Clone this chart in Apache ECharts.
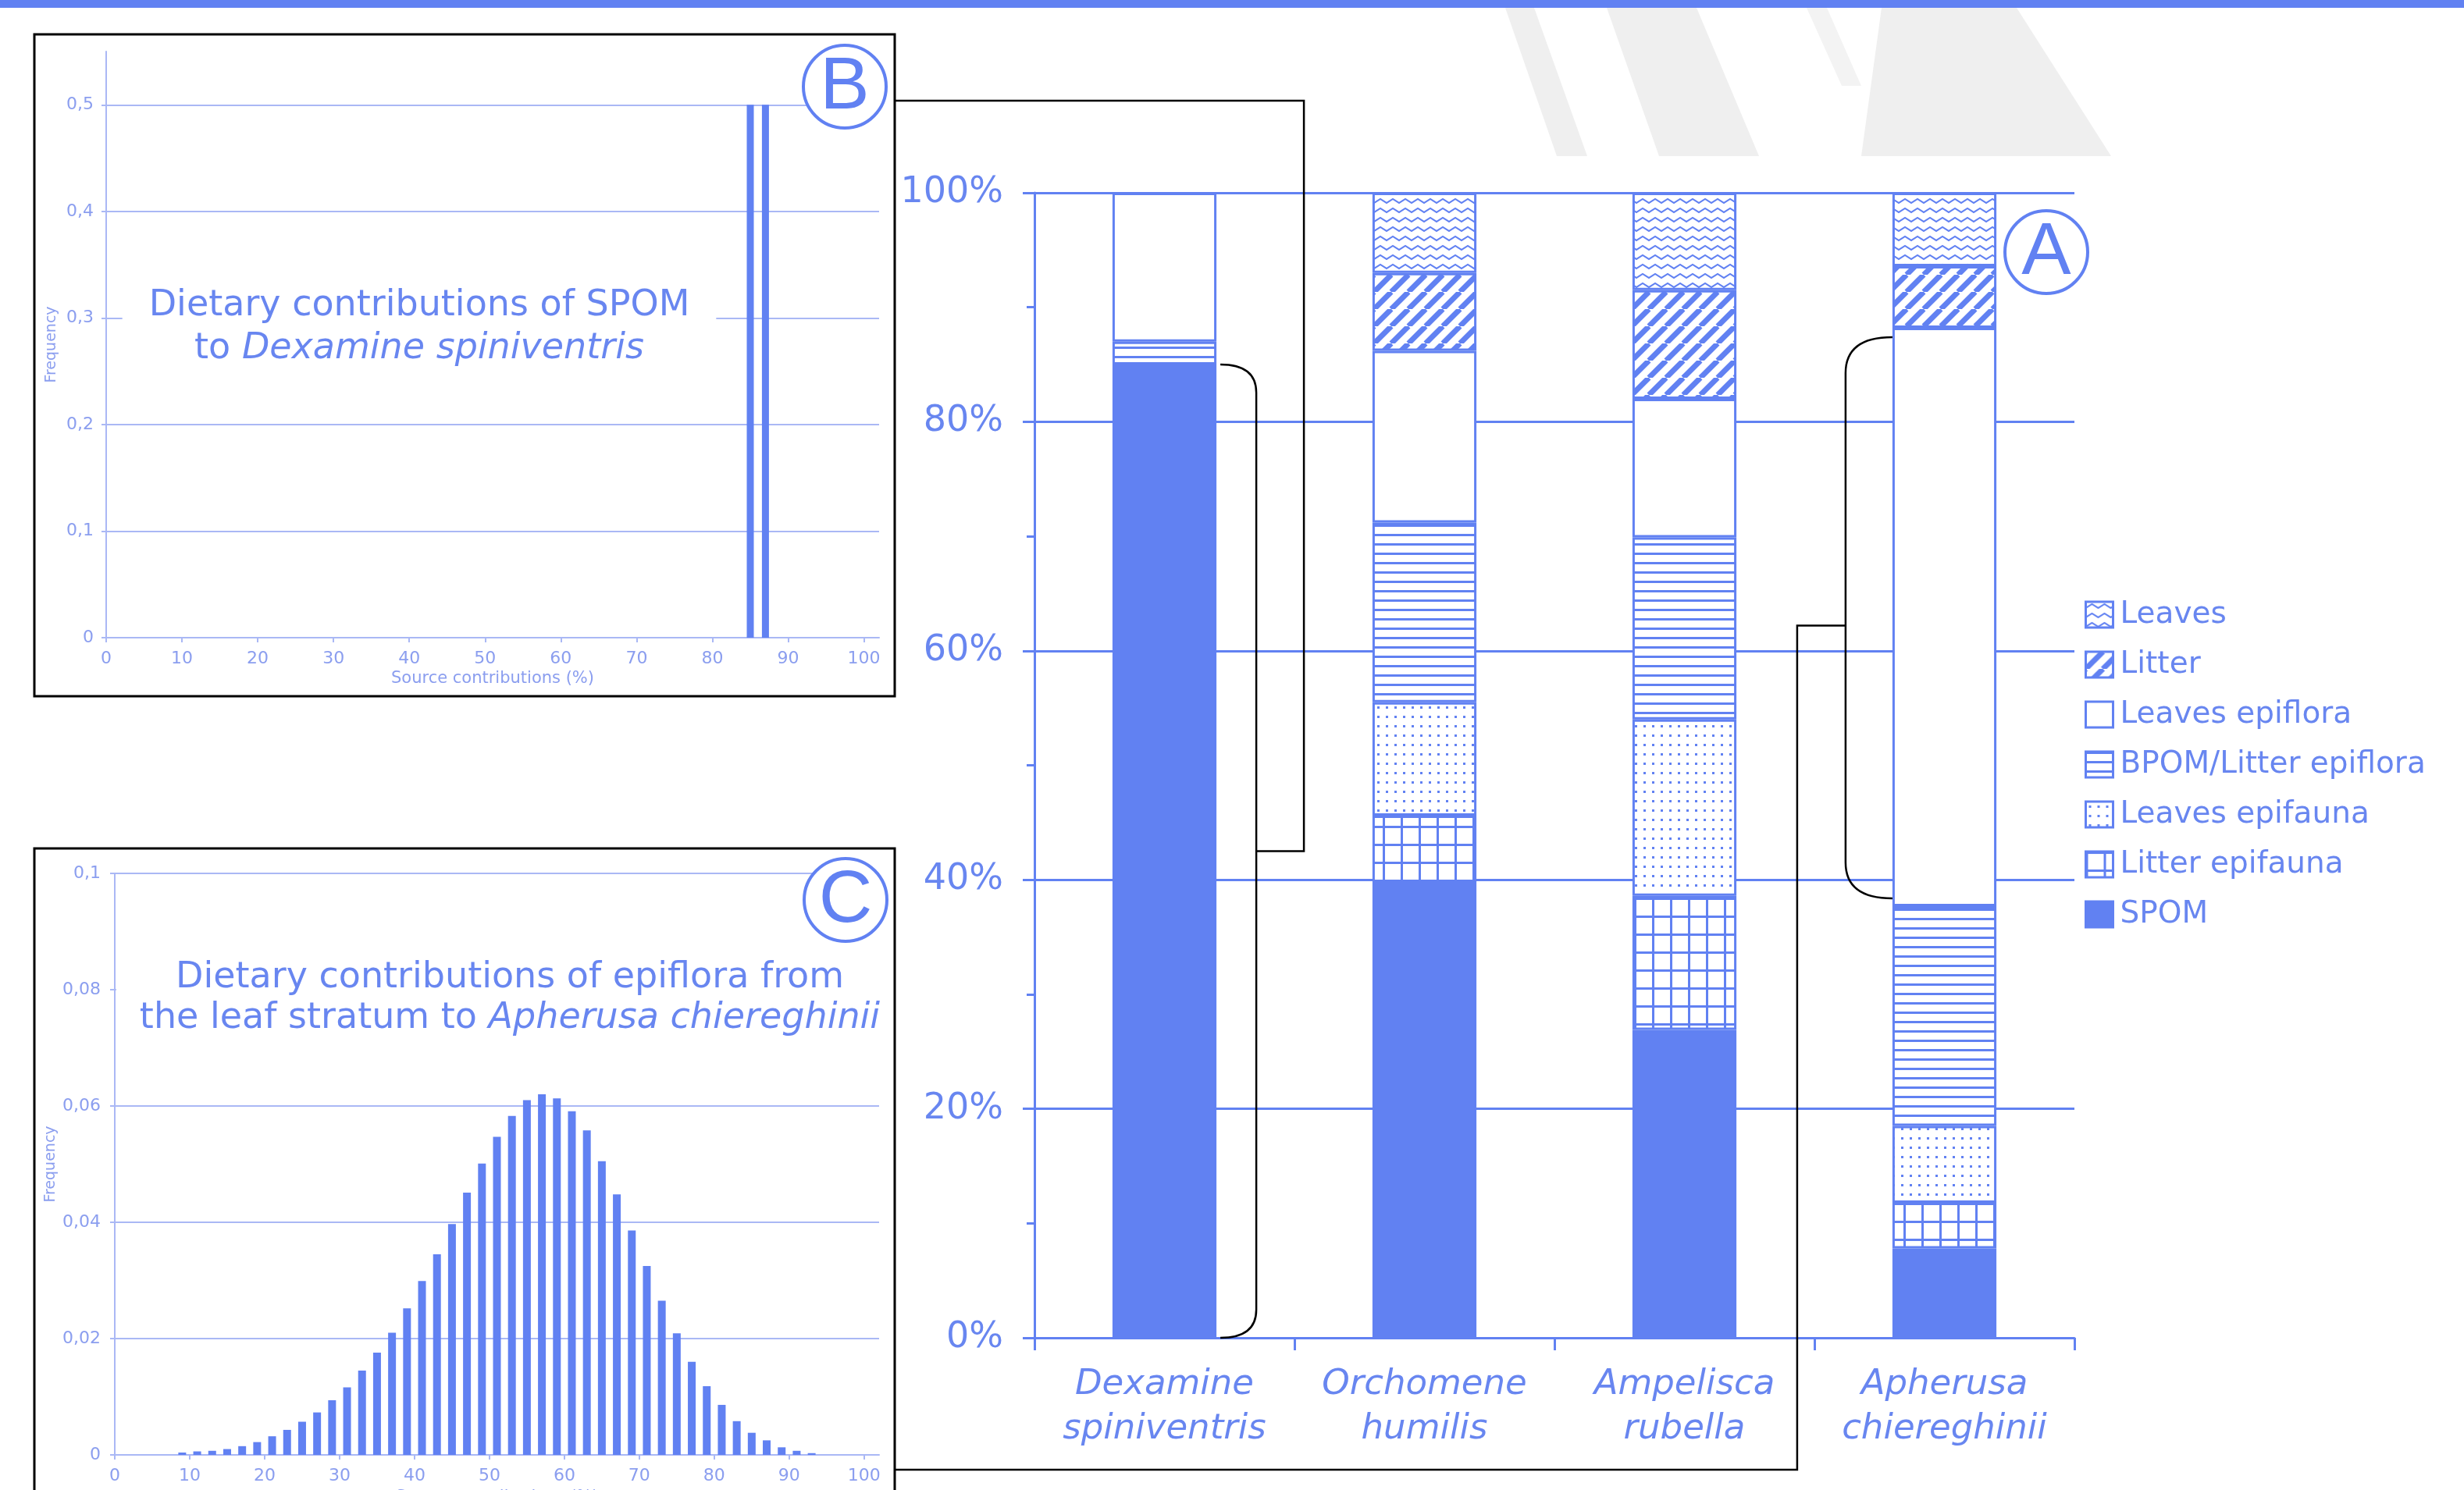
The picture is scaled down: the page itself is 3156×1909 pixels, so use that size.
<!DOCTYPE html>
<html>
<head>
<meta charset="utf-8">
<script src="https://cdn.jsdelivr.net/npm/echarts@6/dist/echarts.min.js"></script>
<style>
  html, body { margin: 0; padding: 0; background: #ffffff; }
  #chart { width: 3156px; height: 1909px; }
</style>
</head>
<body>
<div id="chart"></div>
<script>
// ---------- Panel A: mean dietary source contributions (%) per species ----------
const species = ['Dexamine\nspiniventris', 'Orchomene\nhumilis', 'Ampelisca\nrubella', 'Apherusa\nchiereghinii'];
const spom               = [85.0, 39.6, 26.9,  7.8];
const litterEpifauna     = [ 0.0,  6.0, 11.7,  4.0];
const leavesEpifauna     = [ 0.0,  9.9, 15.4,  6.7];
const bpomLitterEpiflora = [ 2.0, 15.7, 15.9, 19.2];
const leavesEpiflora     = [13.0, 15.0, 12.1, 50.5];
const litter             = [ 0.0,  6.8,  9.5,  5.4];
const leaves             = [ 0.0,  7.0,  8.5,  6.4];
const legendOrder = ['Leaves', 'Litter', 'Leaves epiflora', 'BPOM/Litter epiflora', 'Leaves epifauna', 'Litter epifauna', 'SPOM'];

// ---------- Panel B: SPOM contribution to Dexamine spiniventris ----------
const spomBins = [85, 87];
const spomFreq = [0.5, 0.5];
const freqTicksB = [0, 0.1, 0.2, 0.3, 0.4, 0.5];

// ---------- Panel C: leaf-stratum epiflora contribution to Apherusa chiereghinii ----------
const epifloraBins = [9, 11, 13, 15, 17, 19, 21, 23, 25, 27, 29, 31, 33, 35, 37, 39, 41, 43, 45, 47, 49,
                      51, 53, 55, 57, 59, 61, 63, 65, 67, 69, 71, 73, 75, 77, 79, 81, 83, 85, 87, 89, 91, 93];
const epifloraFreq = [0.0004, 0.0006, 0.0007, 0.0010, 0.0015, 0.0022, 0.0032, 0.0043, 0.0057, 0.0073, 0.0094,
                      0.0116, 0.0145, 0.0176, 0.0210, 0.0252, 0.0299, 0.0345, 0.0397, 0.0451, 0.0501,
                      0.0547, 0.0583, 0.0610, 0.0620, 0.0613, 0.0591, 0.0558, 0.0505, 0.0448, 0.0386,
                      0.0325, 0.0265, 0.0209, 0.0160, 0.0118, 0.0086, 0.0058, 0.0038, 0.0025, 0.0013,
                      0.0007, 0.0003];
const freqTicksC = [0, 0.02, 0.04, 0.06, 0.08, 0.1];
const contributionTicks = [0, 10, 20, 30, 40, 50, 60, 70, 80, 90, 100];

// ---------- styling ----------
const FONT = "'DejaVu Sans', Verdana, sans-serif";
const BLUE = '#6181f2';
const TEXT_BLUE = '#6886f0';
const SOFT_LINE = '#aab8f5';
const SOFT_TEXT = '#8b9eef';

function pattern(w, h, draw) {
  const c = document.createElement('canvas');
  c.width = w; c.height = h;
  const ctx = c.getContext('2d');
  ctx.fillStyle = '#ffffff';
  ctx.fillRect(0, 0, w, h);
  ctx.fillStyle = BLUE;
  ctx.strokeStyle = BLUE;
  draw(ctx);
  return { image: c, repeat: 'repeat' };
}

const fills = {
  'SPOM': BLUE,
  'Litter epifauna': pattern(23, 23, ctx => { ctx.fillRect(0, 0, 23, 3); ctx.fillRect(0, 0, 3, 23); }),
  'Leaves epifauna': pattern(11, 12, ctx => { ctx.fillRect(4, 5, 3, 3); }),
  'BPOM/Litter epiflora': pattern(4, 12, ctx => { ctx.fillRect(0, 0, 4, 3); }),
  'Leaves epiflora': '#ffffff',
  'Litter': pattern(22, 22, ctx => {
    ctx.lineWidth = 7;
    ctx.beginPath();
    for (const k of [-22, 0, 22]) { ctx.moveTo(k, 22); ctx.lineTo(k + 22, 0); }
    ctx.stroke();
  }),
  'Leaves': pattern(16, 12, ctx => {
    ctx.lineWidth = 2;
    ctx.beginPath();
    ctx.moveTo(-8, 3); ctx.lineTo(0, 8); ctx.lineTo(8, 3); ctx.lineTo(16, 8); ctx.lineTo(24, 3);
    ctx.stroke();
  })
};

const layers = [
  ['SPOM', spom],
  ['Litter epifauna', litterEpifauna],
  ['Leaves epifauna', leavesEpifauna],
  ['BPOM/Litter epiflora', bpomLitterEpiflora],
  ['Leaves epiflora', leavesEpiflora],
  ['Litter', litter],
  ['Leaves', leaves]
];

const fmtFreq = v => (v === 0 ? '0' : String(+v.toFixed(2)).replace('.', ','));

function softValueAxis(gridIndex, max, ticks, extra) {
  return Object.assign({
    gridIndex, type: 'value', min: 0, max,
    axisLine: { show: true, lineStyle: { color: SOFT_LINE, width: 2 } },
    axisTick: { show: true, customValues: ticks, length: 6, lineStyle: { color: SOFT_LINE, width: 2 } },
    axisLabel: { customValues: ticks, color: SOFT_TEXT, fontFamily: FONT, fontSize: 22 },
    splitLine: { show: false },
    nameTextStyle: { color: SOFT_TEXT, fontFamily: FONT, fontSize: 21 }
  }, extra);
}

const chart = echarts.init(document.getElementById('chart'), null, { renderer: 'canvas', width: 3156, height: 1909 });

const option = {
  animation: false,
  backgroundColor: '#ffffff',
  grid: [
    { left: 136, top: 66, width: 990, height: 751, containLabel: false, outerBoundsMode: 'none' },
    { left: 147, top: 1119, width: 979, height: 745, containLabel: false, outerBoundsMode: 'none' },
    { left: 1325, top: 247, width: 1332, height: 1467, containLabel: false, outerBoundsMode: 'none' }
  ],
  xAxis: [
    softValueAxis(0, 102, contributionTicks, {
      name: 'Source contributions (%)', nameLocation: 'middle', nameGap: 42,
      axisLabel: { customValues: contributionTicks, color: SOFT_TEXT, fontFamily: FONT, fontSize: 22, margin: 16 }
    }),
    softValueAxis(1, 102, contributionTicks, {
      name: 'Source contributions (%)', nameLocation: 'middle', nameGap: 44,
      axisLabel: { customValues: contributionTicks, color: SOFT_TEXT, fontFamily: FONT, fontSize: 22, margin: 16 }
    }),
    {
      gridIndex: 2, type: 'category', data: species,
      axisLine: { show: true, lineStyle: { color: BLUE, width: 3 } },
      axisTick: { show: true, length: 16, lineStyle: { color: BLUE, width: 3 } },
      axisLabel: { interval: 0, color: TEXT_BLUE, fontFamily: FONT, fontStyle: 'italic', fontSize: 45, lineHeight: 57, margin: 32 },
      splitLine: { show: false }
    }
  ],
  yAxis: [
    softValueAxis(0, 0.55, freqTicksB, {
      name: 'Frequency', nameLocation: 'middle', nameGap: 60,
      nameTextStyle: { color: SOFT_TEXT, fontFamily: FONT, fontSize: 19 },
      axisLabel: { customValues: freqTicksB, formatter: fmtFreq, color: SOFT_TEXT, fontFamily: FONT, fontSize: 22, margin: 16 },
      splitLine: { show: true, lineStyle: { color: SOFT_LINE, width: 2 } }
    }),
    softValueAxis(1, 0.1, freqTicksC, {
      name: 'Frequency', nameLocation: 'middle', nameGap: 72,
      nameTextStyle: { color: SOFT_TEXT, fontFamily: FONT, fontSize: 19 },
      axisLabel: { customValues: freqTicksC, formatter: fmtFreq, color: SOFT_TEXT, fontFamily: FONT, fontSize: 22, margin: 18 },
      splitLine: { show: true, lineStyle: { color: SOFT_LINE, width: 2 } }
    }),
    {
      gridIndex: 2, type: 'value', min: 0, max: 100, interval: 20,
      axisLine: { show: true, lineStyle: { color: BLUE, width: 3 } },
      axisTick: { show: true, length: 15, lineStyle: { color: BLUE, width: 3 } },
      minorTick: { show: true, splitNumber: 2, length: 10, lineStyle: { color: BLUE, width: 3 } },
      axisLabel: { formatter: '{value}%', color: TEXT_BLUE, fontFamily: FONT, fontSize: 46, margin: 40 },
      splitLine: { show: true, lineStyle: { color: BLUE, width: 3 } }
    }
  ],
  legend: {
    left: 2670, top: 768, orient: 'vertical', padding: 0,
    itemWidth: 35, itemHeight: 33, itemGap: 25, icon: 'rect', selectedMode: false,
    itemStyle: { borderColor: BLUE, borderWidth: 3 },
    textStyle: { color: TEXT_BLUE, fontFamily: FONT, fontSize: 39, padding: [0, 0, 0, 4] },
    data: legendOrder
  },
  series: [
    {
      type: 'bar', xAxisIndex: 0, yAxisIndex: 0, barWidth: 9,
      data: spomBins.map((b, i) => [b, spomFreq[i]]),
      itemStyle: { color: BLUE }, emphasis: { disabled: true }
    },
    {
      type: 'bar', xAxisIndex: 1, yAxisIndex: 1, barWidth: 10,
      data: epifloraBins.map((b, i) => [b, epifloraFreq[i]]),
      itemStyle: { color: BLUE }, emphasis: { disabled: true }
    }
  ].concat(layers.map(([name, values]) => ({
    type: 'bar', name, xAxisIndex: 2, yAxisIndex: 2, stack: 'diet', barWidth: '40%',
    data: values.map(v => (v > 0 ? v : '-')),
    itemStyle: { color: fills[name], borderColor: BLUE, borderWidth: 3 },
    emphasis: { disabled: true }
  })))
};

chart.setOption(option);

// ---------- annotations: frames, panel titles, badges and connector brackets ----------
const toPx = (i, v) => chart.convertToPixel({ gridIndex: 2 }, [i, v]);
const band = toPx(1, 0)[0] - toPx(0, 0)[0];
const halfBar = band * 0.2;
const sum = (arrs, i) => arrs.reduce((s, a) => s + a[i], 0);

const LINE = { stroke: '#000000', lineWidth: 2.5, fill: null };

// a rounded bracket: two quarter curves joined by a vertical stroke at xv
function bracket(xEdge, yTop, yBot, xv, r) {
  return [
    { type: 'bezierCurve', z: 110, style: LINE,
      shape: { x1: xEdge, y1: yTop, x2: xv, y2: yTop + r, cpx1: xv, cpy1: yTop } },
    { type: 'line', z: 110, style: LINE,
      shape: { x1: xv, y1: yTop + r, x2: xv, y2: yBot - r } },
    { type: 'bezierCurve', z: 110, style: LINE,
      shape: { x1: xv, y1: yBot - r, x2: xEdge, y2: yBot, cpx1: xv, cpy1: yBot } }
  ];
}

// bracket on the right of the Dexamine SPOM block
const dX = toPx(0, 0)[0] + halfBar;
const dTop = toPx(0, spom[0])[1];
const dBot = toPx(0, 0)[1];
const dV = dX + 51;
const dMid = (dTop + dBot) / 2;

// bracket on the left of the Apherusa leaves-epiflora block
const aBase = sum([spom, litterEpifauna, leavesEpifauna, bpomLitterEpiflora], 3);
const aX = toPx(3, 0)[0] - halfBar;
const aTop = toPx(3, aBase + leavesEpiflora[3])[1] + 12;
const aBot = toPx(3, aBase)[1] - 10;
const aV = aX - 60;
const aJoin = (aTop + aBot) / 2 + 10;

function badge(cx, cy, letter) {
  return [
    { type: 'circle', shape: { cx, cy, r: 53 }, style: { fill: '#ffffff', stroke: BLUE, lineWidth: 4 }, z: 130 },
    { type: 'text', x: cx, y: cy + 2, z: 131,
      style: { text: letter, fill: BLUE, font: "95px 'Liberation Sans', Arial, sans-serif", align: 'center', verticalAlign: 'middle' } }
  ];
}

const elements = [
  // faint background logo
  { type: 'polygon', shape: { points: [[1928, 10], [1965, 10], [2033, 200], [1994, 200]] }, style: { fill: '#efefef' }, z: -10 },
  { type: 'polygon', shape: { points: [[2058, 10], [2173, 10], [2253, 200], [2125, 200]] }, style: { fill: '#efefef' }, z: -10 },
  { type: 'polygon', shape: { points: [[2314, 10], [2340, 10], [2384, 110], [2359, 110]] }, style: { fill: '#f3f3f3' }, z: -10 },
  { type: 'polygon', shape: { points: [[2410, 10], [2583, 10], [2704, 200], [2384, 200]] }, style: { fill: '#efefef' }, z: -10 },
  // top band
  { type: 'rect', shape: { x: 0, y: 0, width: 3156, height: 10 }, style: { fill: BLUE }, z: 140 },
  // panel titles
  { type: 'text', x: 537, y: 420, z: 100,
    style: {
      text: 'Dietary contributions of SPOM\nto {i|Dexamine spiniventris}',
      font: "46px " + FONT, fill: TEXT_BLUE, lineHeight: 55, align: 'center', verticalAlign: 'middle',
      backgroundColor: '#ffffff', padding: [12, 34],
      rich: { i: { fontStyle: 'italic', fontSize: 46, fontFamily: FONT, fill: TEXT_BLUE, lineHeight: 55 } }
    } },
  { type: 'text', x: 653, y: 1279, z: 100,
    style: {
      text: 'Dietary contributions of epiflora from\nthe leaf stratum to {i|Apherusa chiereghinii}',
      font: "46px " + FONT, fill: TEXT_BLUE, lineHeight: 52, align: 'center', verticalAlign: 'middle',
      backgroundColor: '#ffffff', padding: [14, 30],
      rich: { i: { fontStyle: 'italic', fontSize: 46, fontFamily: FONT, fill: TEXT_BLUE, lineHeight: 52 } }
    } },
  // panel frames
  { type: 'rect', shape: { x: 44, y: 44, width: 1102, height: 848 }, style: { fill: null, stroke: '#000000', lineWidth: 3 }, z: 120 },
  { type: 'rect', shape: { x: 44, y: 1087, width: 1102, height: 900 }, style: { fill: null, stroke: '#000000', lineWidth: 3 }, z: 120 },
  // connectors from the brackets to panels B and C
  { type: 'polyline', z: 110, style: LINE, shape: { points: [[dV, dMid], [dV + 61, dMid], [dV + 61, 129], [1146, 129]] } },
  { type: 'polyline', z: 110, style: LINE, shape: { points: [[aV, aJoin], [aV - 62, aJoin], [aV - 62, 1883], [1146, 1883]] } }
].concat(
  bracket(dX + 5, dTop, dBot, dV, 36),
  bracket(aX, aTop, aBot, aV, 46),
  badge(1082, 111, 'B'), badge(1083, 1153, 'C'), badge(2621, 323, 'A')
);

chart.setOption({ graphic: { elements } });
</script>
</body>
</html>
